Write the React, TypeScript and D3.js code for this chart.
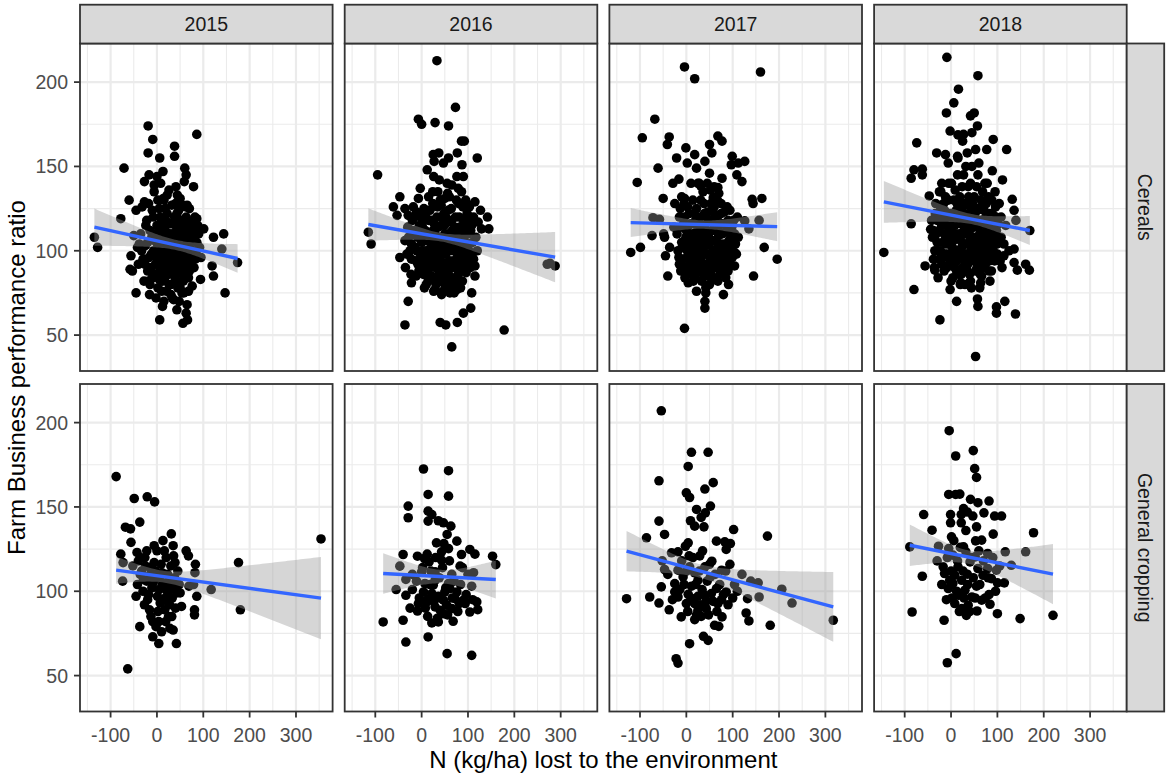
import { useEffect, useRef } from 'react';
import * as d3 from 'd3';

// Facets
const YEARS = ['2015', '2016', '2017', '2018'];
const FARM_TYPES = ['Cereals', 'General cropping'];
const X_TICKS = [-100, 0, 100, 200, 300];
const Y_TICKS = [50, 100, 150, 200];
const X_MINOR = [-150, -50, 50, 150, 250, 350];
const Y_MINOR = [75, 125, 175];

type Pt = [number, number];

// N lost (kg/ha), performance ratio
const CEREALS_2015: Pt[] = [
  [-135, 108], [-128, 102], [-19, 174], [-9, 166], [-19, 158], [6, 155], [38, 162], [38, 156], [86, 169],
  [-71, 149], [60, 149], [63, 145], [-27, 141], [-17, 145], [13, 147], [0, 144], [79, 138], [59, 141],
  [41, 138], [-6, 139], [-60, 130], [-45, 124], [-78, 119], [-27, 129], [-32, 126], [22, 133], [14, 131],
  [50, 131], [65, 127], [86, 119], [101, 113], [122, 108], [144, 110], [140, 101], [174, 93], [122, 85],
  [119, 91], [147, 75], [-56, 97], [-42, 102], [-50, 109], [-58, 89], [-53, 88], [-45, 75], [-16, 74],
  [-18, 82], [12, 67], [6, 59], [36, 71], [56, 57], [66, 59], [63, 63], [43, 65], [54, 75], [76, 79],
  [94, 83], [65, 68],
  [-30, 95], [-25, 103], [-20, 88], [-15, 112], [-12, 98], [-10, 84], [-8, 120], [-5, 106], [-3, 92],
  [0, 115], [2, 78], [3, 100], [5, 125], [6, 88], [8, 108], [10, 95], [11, 118], [12, 82], [14, 103],
  [15, 130], [16, 90], [18, 112], [20, 98], [21, 76], [22, 122], [24, 86], [25, 106], [27, 94], [28, 116],
  [30, 80], [31, 101], [32, 127], [34, 89], [35, 110], [36, 97], [38, 120], [39, 84], [40, 104], [42, 92],
  [43, 113], [45, 78], [46, 99], [47, 124], [49, 87], [50, 107], [51, 95], [53, 118], [54, 82], [55, 102],
  [57, 90], [58, 111], [60, 98], [62, 85], [63, 120], [65, 105], [66, 93], [68, 113], [70, 88], [72, 101],
  [74, 117], [76, 95], [78, 108], [80, 90], [-22, 118], [-18, 128], [-6, 135], [8, 140], [26, 136],
  [44, 133], [-28, 82], [-35, 110], [-40, 92], [15, 70], [33, 72], [-2, 72], [48, 70], [58, 75], [85, 100],
  [90, 110], [95, 96], [-15, 80], [5, 96], [19, 104], [37, 106], [52, 92], [67, 98], [-1, 110], [29, 88],
  [41, 82], [61, 115], [12, 114], [23, 110], [56, 127], [70, 125], [82, 120],
  [-33, 100], [-26, 92], [-24, 115], [-20, 105], [-17, 96], [-13, 90], [-11, 108], [-7, 100], [-4, 86],
  [-1, 96], [1, 104], [4, 112], [7, 120], [9, 101], [11, 90], [13, 110], [15, 96], [17, 84], [19, 118],
  [21, 108], [23, 93], [25, 100], [26, 80], [28, 110], [30, 95], [32, 104], [33, 116], [35, 86], [37, 100],
  [39, 110], [41, 96], [43, 122], [44, 88], [46, 106], [48, 114], [50, 93], [52, 100], [54, 110], [56, 88],
  [58, 104], [59, 96], [61, 108], [63, 92], [64, 100], [66, 114], [68, 84], [70, 104], [72, 94], [74, 110],
  [77, 100], [80, 112], [83, 95], [86, 105], [88, 115], [92, 102], [-38, 104], [10, 76], [30, 74], [50, 78],
  [68, 76], [5, 83], [45, 118], [22, 86], [36, 92], [57, 82], [62, 126], [18, 125], [-10, 124], [2, 130],
  [40, 128],
];

const CEREALS_2016: Pt[] = [
  [33, 212.7], [73, 185], [-7, 178], [0, 175], [29, 176], [58, 174], [86, 165], [92, 165], [25, 157],
  [37, 158], [58, 155], [77, 158], [120, 155], [27, 153], [47, 152], [87, 151], [-95, 145], [12, 148],
  [26, 144], [38, 142], [55, 140], [65, 139], [76, 144], [90, 144], [-3, 137], [24, 135], [79, 137],
  [86, 135], [56, 134], [-47, 132], [-7, 131], [50, 131], [115, 129], [-61, 126], [-36, 125], [-11, 123],
  [18, 124], [42, 127], [101, 127], [127, 124], [142, 120], [145, 113], [-53, 121], [-29, 121], [-115, 111],
  [-109, 104], [-36, 106], [-22, 104], [-47, 96], [-32, 98], [-35, 90], [-23, 86], [-22, 81], [-29, 70],
  [-36, 56], [40, 57.5], [52, 56], [77, 57.5], [90, 63], [106, 66], [108, 75], [65, 43], [178, 53],
  [271, 92], [288, 91], [277, 92.5], [115, 91], [115, 85], [104, 97], [129, 113], [122, 117], [29, 77],
  [43, 74], [61, 75], [76, 77],
  [-20, 118], [-15, 110], [-10, 100], [-8, 92], [-5, 115], [0, 105], [2, 96], [4, 86], [5, 125], [8, 112],
  [10, 100], [12, 90], [14, 82], [15, 118], [18, 106], [20, 95], [22, 85], [24, 128], [25, 112], [28, 100],
  [30, 90], [31, 80], [33, 120], [35, 108], [37, 96], [38, 86], [40, 130], [42, 115], [44, 103], [45, 93],
  [47, 82], [48, 122], [50, 110], [52, 98], [54, 88], [56, 78], [57, 117], [59, 105], [60, 94], [62, 84],
  [64, 125], [66, 112], [68, 100], [70, 90], [72, 80], [73, 120], [75, 108], [77, 96], [79, 86], [80, 128],
  [82, 114], [84, 102], [86, 92], [88, 82], [90, 118], [92, 106], [94, 96], [96, 87], [98, 122], [100, 110],
  [102, 100], [105, 90], [108, 115], [110, 105], [-25, 100], [-12, 85], [6, 78], [26, 76], [46, 76],
  [66, 78], [84, 78], [35, 135], [60, 132], [15, 132], [-2, 120], [-18, 126], [75, 130], [95, 130],
  [104, 120], [3, 108], [16, 98], [27, 116], [39, 104], [52, 120], [63, 92], [71, 114], [81, 104],
  [93, 112], [112, 95], [55, 102], [43, 88], [20, 102], [33, 96], [67, 106], [87, 98], [-3, 98], [9, 120],
  [58, 86], [76, 90],
  [-28, 108], [-22, 95], [-18, 112], [-14, 102], [-12, 94], [-9, 108], [-6, 88], [-4, 110], [-1, 93],
  [1, 115], [3, 100], [6, 90], [7, 122], [9, 106], [11, 95], [13, 85], [16, 110], [17, 100], [19, 90],
  [21, 118], [23, 104], [25, 94], [27, 84], [29, 110], [31, 100], [33, 90], [34, 126], [36, 114], [38, 102],
  [39, 92], [41, 82], [43, 120], [45, 108], [46, 98], [48, 88], [49, 115], [51, 104], [53, 92], [55, 84],
  [57, 124], [58, 110], [60, 100], [62, 90], [63, 80], [65, 118], [67, 104], [69, 94], [71, 84], [74, 112],
  [76, 100], [78, 92], [81, 120], [83, 108], [85, 96], [87, 88], [89, 126], [91, 112], [93, 100], [95, 92],
  [97, 116], [99, 104], [101, 94], [103, 126], [106, 112], [109, 98], [112, 120], [-30, 114], [-16, 120],
  [117, 108], [120, 100], [30, 82], [50, 80], [70, 75], [10, 80],
];

const CEREALS_2017: Pt[] = [
  [-4, 209], [18, 202], [160, 206], [-68, 178], [-95, 167], [-37, 167.5], [-41, 163], [68, 168], [77, 165],
  [50, 163], [55, 158], [-1, 161], [18, 157], [-21, 155], [2, 152], [22, 149], [40, 153], [99, 156],
  [126, 153], [112, 152], [97, 151], [-61, 149], [50, 146], [109, 145], [120, 141], [-106, 140.5], [-29, 140],
  [-16, 142.5], [77, 143], [68, 137.5], [31, 138.5], [-50, 131], [-25, 128], [142, 130.5], [163, 131],
  [144, 128], [-4, 131], [58, 131.5], [-72, 119.6], [-58, 118.6], [-27, 114], [-74, 109], [-49, 110],
  [-47, 108], [-120, 99], [-99, 102], [-36, 102], [-45, 97], [-40, 85], [126, 117.7], [157, 118], [135, 113],
  [168, 102], [196, 95], [145, 85], [4, 81], [22, 76], [42, 78], [42, 75], [40, 70], [40, 66], [80, 74],
  [91, 80], [65, 83], [-4, 54], [104, 99], [104, 91],
  [-15, 120], [-10, 105], [-8, 95], [-5, 128], [0, 112], [2, 100], [4, 90], [6, 122], [8, 108], [10, 96],
  [12, 86], [14, 130], [16, 116], [18, 104], [20, 93], [22, 125], [24, 112], [26, 100], [28, 89], [30, 120],
  [32, 108], [34, 97], [36, 135], [38, 128], [40, 115], [42, 103], [44, 92], [46, 123], [48, 110], [50, 98],
  [52, 87], [54, 118], [56, 106], [58, 95], [60, 126], [62, 113], [64, 101], [66, 90], [68, 121], [70, 109],
  [72, 98], [74, 88], [76, 116], [78, 104], [80, 94], [82, 123], [84, 111], [86, 100], [88, 90], [90, 118],
  [92, 106], [95, 96], [98, 114], [100, 103], [104, 110], [-18, 100], [-12, 88], [-3, 84], [15, 82],
  [33, 82], [50, 80], [68, 82], [85, 84], [25, 140], [45, 140], [60, 138], [10, 140], [-2, 104], [35, 112],
  [55, 124], [75, 128], [88, 126], [15, 98], [30, 106], [65, 96], [80, 100], [-6, 116], [20, 118], [45, 85],
  [58, 112], [5, 115], [70, 117], [93, 92], [108, 98], [110, 120],
  [-20, 110], [-16, 96], [-13, 125], [-11, 114], [-9, 102], [-7, 90], [-4, 120], [-1, 108], [1, 96],
  [3, 126], [5, 104], [7, 92], [9, 116], [11, 100], [13, 110], [15, 90], [17, 122], [19, 108], [21, 98],
  [23, 88], [25, 118], [27, 104], [29, 94], [31, 130], [33, 115], [35, 102], [37, 92], [39, 122], [41, 108],
  [43, 98], [45, 88], [47, 118], [49, 104], [51, 94], [53, 128], [55, 112], [57, 100], [59, 90], [61, 120],
  [63, 106], [65, 95], [67, 130], [69, 114], [71, 102], [73, 92], [75, 122], [77, 110], [79, 98], [81, 88],
  [83, 116], [85, 104], [87, 94], [89, 112], [91, 100], [94, 124], [96, 108], [99, 96], [102, 118],
  [106, 104], [-15, 92], [0, 88], [18, 85], [36, 86], [55, 84], [72, 86], [90, 88], [28, 140], [52, 136],
  [70, 134], [-10, 132], [112, 108],
];

const CEREALS_2018: Pt[] = [
  [-9, 214.7], [58, 203.8], [16, 195.8], [6, 187.7], [-10, 181.7], [42, 180], [50, 181.7], [57, 174],
  [-2, 171], [15, 168.7], [27, 169], [-74, 164], [91, 166], [120, 160], [-31, 158], [-12, 157], [14, 156],
  [53, 160], [77, 160], [-80, 148], [-62, 148.4], [-86, 143], [-62, 145], [111, 142], [89, 147.4],
  [-47, 132.5], [-22, 135], [132, 130.5], [136, 124], [140, 118], [170, 112], [-86, 116], [-145, 99],
  [-44, 112.7], [-56, 91], [-35, 88.5], [-80, 77], [-2, 77], [12, 70], [57, 71.4], [58, 67], [98, 66.7],
  [98, 63], [116, 70], [139, 62.5], [-24, 59], [53, 37.3], [136, 101], [136, 93], [161, 92], [169, 88.5],
  [143, 88.5], [21, 81], [44, 78], [64, 81], [114, 97],
  [-40, 108], [-35, 100], [-30, 118], [-25, 95], [-22, 125], [-18, 105], [-15, 88], [-12, 132], [-10, 115],
  [-8, 98], [-5, 140], [-2, 122], [0, 108], [2, 92], [4, 84], [6, 130], [8, 115], [10, 100], [12, 88],
  [14, 145], [16, 124], [18, 110], [20, 96], [22, 86], [24, 138], [26, 118], [28, 104], [30, 92], [32, 150],
  [34, 128], [36, 112], [38, 98], [40, 86], [42, 140], [44, 122], [46, 108], [48, 95], [50, 132], [52, 116],
  [54, 102], [56, 90], [58, 145], [60, 125], [62, 110], [64, 97], [66, 85], [68, 135], [70, 118], [72, 104],
  [74, 92], [76, 128], [78, 112], [80, 100], [82, 88], [84, 122], [86, 108], [88, 96], [90, 118], [92, 104],
  [95, 135], [98, 112], [100, 98], [104, 128], [108, 108], [110, 90], [-28, 84], [-20, 140], [15, 155],
  [35, 158], [60, 152], [78, 140], [-6, 152], [25, 165], [45, 170], [12, 120], [38, 132], [58, 118],
  [88, 130], [-15, 110], [5, 100], [28, 122], [52, 94], [72, 128], [20, 80], [42, 82], [65, 106], [94, 94],
  [-33, 128], [118, 115], [125, 100],
  [-42, 118], [-38, 95], [-32, 110], [-28, 100], [-25, 135], [-20, 115], [-17, 96], [-14, 124], [-11, 104],
  [-9, 90], [-6, 130], [-3, 112], [-1, 98], [1, 140], [3, 120], [5, 106], [7, 94], [9, 136], [11, 124],
  [13, 108], [15, 96], [17, 86], [19, 132], [21, 116], [23, 102], [25, 90], [27, 145], [29, 128], [31, 110],
  [33, 98], [35, 88], [37, 138], [39, 120], [41, 106], [43, 94], [45, 150], [47, 128], [49, 114], [51, 100],
  [53, 88], [55, 138], [57, 124], [59, 108], [61, 96], [63, 86], [65, 130], [67, 116], [69, 100], [71, 90],
  [73, 140], [75, 120], [77, 106], [79, 94], [81, 132], [83, 114], [85, 100], [87, 88], [89, 122], [91, 110],
  [93, 98], [96, 126], [99, 104], [102, 116], [106, 94], [-36, 90], [0, 82], [30, 80], [62, 78], [84, 82],
  [108, 120], [114, 104],
  [-38, 112], [-34, 122], [-30, 105], [-26, 112], [-23, 100], [-19, 120], [-16, 128], [-13, 98], [-10, 108],
  [-7, 118], [-4, 104], [-2, 94], [1, 116], [3, 102], [6, 122], [8, 90], [10, 110], [13, 128], [16, 100],
  [18, 118], [21, 106], [23, 126], [26, 96], [28, 112], [31, 120], [33, 104], [36, 92], [38, 116], [41, 126],
  [43, 100], [46, 114], [48, 104], [51, 122], [53, 108], [56, 96], [58, 114], [61, 102], [63, 118], [66, 92],
  [68, 110], [71, 124], [73, 98], [76, 112], [78, 122], [81, 104], [83, 94], [86, 118], [88, 110], [91, 100],
  [94, 112], [97, 120], [100, 106], [-20, 92], [12, 94], [40, 112], [70, 108],
];

const GENERAL_2015: Pt[] = [
  [-88, 168], [-49, 155], [-21, 156], [-5, 153], [-37, 141], [-68, 138], [-57, 137], [-56, 129], [-43, 123],
  [-36, 120], [-78, 122], [-73, 117], [-52, 115], [-74, 106], [-22, 124], [-6, 127], [0, 124], [-6, 117],
  [13, 130], [16, 124], [31, 134], [35, 127], [36, 121], [39, 117], [63, 124], [68, 121], [83, 116],
  [82, 111], [69, 103], [86, 97], [117, 101], [81, 89], [81, 86], [53, 91], [43, 99], [176, 117], [180, 89],
  [354, 131], [-63, 54], [-37, 79], [-45, 97], [-27, 92], [-20, 95], [-16, 89], [-13, 85], [-9, 82],
  [-9, 73], [4, 69], [4, 82], [19, 82], [25, 85], [32, 85], [35, 77], [42, 69], [17, 89], [14, 95], [1, 97],
  [7, 93], [20, 105], [29, 101], [36, 103], [43, 105], [23, 110], [11, 111], [-14, 110], [-29, 107],
  [-42, 104], [-36, 110], [-22, 106], [-11, 102], [22, 100], [50, 99], [29, 107], [-11, 108], [6, 108],
  [25, 93], [-25, 115], [79, 104],
  [-40, 118], [-33, 112], [-30, 100], [-26, 120], [-18, 98], [-15, 114], [-8, 105], [-3, 112], [2, 88],
  [5, 101], [9, 116], [12, 104], [18, 96], [20, 120], [24, 102], [27, 92], [30, 115], [33, 96], [38, 108],
  [40, 90], [45, 112], [48, 104], [-2, 79], [10, 76], [28, 78],
];

const GENERAL_2016: Pt[] = [
  [4, 172.5], [58, 171.5], [14, 157.4], [58, 156.4], [-29, 150.5], [-29, 143.6], [14, 147.5], [22, 145.5],
  [14, 141.6], [36, 141.8], [47, 140.6], [63, 138.6], [55, 133.7], [32, 128.7], [48, 128.3], [76, 129.7],
  [58, 125.3], [43, 123.4], [104, 124.8], [115, 122], [86, 121.8], [-40, 121.8], [-9, 120.8], [6, 119.4],
  [16, 117.4], [43, 118.4], [153, 120.8], [160, 115.8], [83, 114.9], [-47, 114.9], [0, 111.5], [29, 111.5],
  [65, 110], [112, 111], [-34, 107], [-11, 106], [29, 106.5], [58, 104.6], [108, 103], [-55, 101],
  [-20, 101], [-34, 97.6], [4, 99.6], [22, 98.6], [36, 97], [47, 94.7], [72, 95.6], [90, 94.7], [119, 93.7],
  [-7, 92.7], [11, 93.7], [29, 90.7], [40, 88.7], [54, 91.7], [65, 89.7], [81, 92.7], [104, 87.7],
  [121, 89.1], [-9, 88.3], [13, 85.1], [22, 81.2], [36, 81.8], [47, 86.7], [68, 82.2], [-83, 81.8],
  [-40, 82.8], [14, 72.9], [-34, 69.9], [55, 63], [108, 62], [25, 103.6], [50, 99.6], [14, 95.6],
  [61, 101.6], [76, 99.6], [94, 92.7], [7, 104.6],
  [-20, 110], [-5, 96], [2, 114], [8, 90], [12, 122], [18, 104], [20, 112], [26, 94], [30, 120], [34, 84],
  [38, 108], [40, 96], [45, 114], [52, 102], [56, 86], [60, 118], [66, 96], [70, 106], [78, 88], [84, 104],
  [88, 114], [96, 98], [100, 110], [110, 95], [-25, 90],
];

const GENERAL_2017: Pt[] = [
  [-54, 207], [11, 182.4], [47, 182.4], [4, 174], [-59, 165.5], [58, 164.4], [40, 160.6], [0, 158.4],
  [7, 155.6], [52, 150.5], [22, 148.5], [41, 146.5], [32, 143.8], [9, 141.8], [18, 138.6], [38, 138.2],
  [-59, 141.6], [-47, 133.7], [102, 136.6], [175, 132.7], [-86, 131.7], [65, 129.7], [83, 129.3],
  [95, 128.3], [4, 128.7], [86, 124.8], [-2, 126.7], [-18, 123.4], [-32, 122.8], [6, 121], [29, 121],
  [94, 116], [55, 117.8], [-52, 118], [-47, 112.9], [-18, 112.5], [7, 114.5], [40, 114.5], [76, 112.5],
  [18, 110.9], [52, 108.5], [139, 106], [155, 105], [104, 104], [-25, 104.5], [-54, 102.6], [-14, 101],
  [11, 103], [34, 101], [65, 101.6], [86, 99.6], [206, 101.2], [-129, 95.6], [-79, 96.6], [-18, 96.6],
  [4, 98.2], [25, 97], [54, 98.6], [76, 95], [132, 95.6], [157, 96.6], [-59, 93], [-37, 89], [18, 92.7],
  [43, 94.3], [68, 92.7], [228, 93], [-11, 84.8], [18, 83.2], [32, 85.1], [43, 89.7], [77, 84.8],
  [129, 87.1], [135, 82.4], [61, 79.8], [70, 79.2], [181, 79.8], [317, 82.8], [37, 73.3], [47, 70.9],
  [7, 68.9], [-22, 60], [-18, 57.4], [25, 88.7], [0, 92.7], [-25, 99.6], [-7, 108.5], [25, 106.5],
  [-40, 110], [-30, 95], [-10, 118], [-5, 104], [0, 112], [3, 88], [10, 96], [14, 120], [20, 104], [22, 86],
  [28, 112], [30, 92], [35, 124], [38, 98], [45, 106], [48, 86], [50, 116], [58, 94], [62, 110], [66, 88],
  [72, 104], [80, 98], [85, 112], [90, 92], [100, 96], [110, 100], [120, 110],
];

const GENERAL_2018: Pt[] = [
  [-4, 195.2], [48, 183.4], [10, 180.2], [51, 172.7], [55, 167.5], [-5, 157.4], [10, 157.4], [19, 157.6],
  [42, 154.5], [58, 152.5], [82, 153.5], [-59, 145.5], [-1, 145.5], [22, 145.5], [47, 144.6], [71, 146.5],
  [94, 144.6], [109, 144.6], [27, 149], [35, 147], [-1, 140.6], [22, 140.6], [55, 138.2], [-41, 136.2],
  [91, 133.9], [178, 134.7], [1, 132.3], [53, 129.9], [66, 130.3], [27, 126.3], [-27, 126.7], [-5, 125.3],
  [-89, 126.3], [79, 122.4], [117, 123.4], [161, 123.4], [4, 121.4], [32, 123.4], [52, 120.4], [130, 115.4],
  [-17, 114.5], [15, 114.5], [58, 113.5], [79, 113.5], [98, 112.5], [-62, 108.9], [-14, 110.5], [8, 109.5],
  [35, 110.1], [69, 109.5], [87, 107.5], [-3, 106.5], [23, 106.5], [55, 103], [100, 105], [-6, 101.6],
  [30, 100.6], [82, 98], [16, 97.6], [66, 94.7], [84, 92.3], [23, 89.7], [37, 91.7], [56, 88.3], [33, 85.7],
  [100, 86.7], [-84, 87.7], [-15, 82.8], [149, 83.8], [220, 85.7], [11, 63], [-8, 57.6], [8, 92.7],
  [45, 96.6], [4, 104.6], [41, 117.4],
  [-30, 118], [-20, 104], [-10, 95], [-8, 120], [0, 112], [2, 96], [6, 130], [12, 100], [14, 118], [18, 88],
  [20, 126], [26, 112], [28, 96], [32, 136], [36, 104], [40, 88], [44, 120], [48, 108], [52, 96], [60, 124],
  [62, 104], [70, 118], [74, 96], [80, 108], [90, 120], [96, 100], [105, 115], [115, 105],
];

const CEREALS_POINTS = [CEREALS_2015, CEREALS_2016, CEREALS_2017, CEREALS_2018];
const GENERAL_POINTS = [GENERAL_2015, GENERAL_2016, GENERAL_2017, GENERAL_2018];

// Linear fit: [xA, yA, xB, yB], and CI half-width at left end, narrowest, right end
const CEREALS_FIT = [
  [-135, 114, 171, 95.6], [-114, 115.5, 284, 96.4], [-120, 116.7, 194, 114.3], [-145, 129, 170, 112],
];
const CEREALS_CI = [[11, 3, 8.5], [9.6, 2.5, 14.9], [8.6, 2.5, 8.6], [12.4, 3, 8.6]];
const GENERAL_FIT = [
  [-88, 112.5, 353, 96], [-83, 110.5, 157, 107], [-129, 123.8, 313, 91], [-89, 127.3, 221, 110.1],
];
const GENERAL_CI = [[8, 3.5, 24.4], [12, 4, 11.2], [12, 4, 20.7], [12.3, 4, 17.8]];

const FONT = '"Liberation Sans", Arial, sans-serif';

export default function App() {
  const svgRef = useRef<SVGSVGElement>(null);

  useEffect(() => {
    document.body.style.margin = '0';
    if (!svgRef.current) return;
    const svg = d3.select(svgRef.current);
    svg.selectAll('*').remove();

    const panelW = 252.6;
    const panelH = 327.5;
    const colStep = 264.7;
    const left = 80;
    const rowTops = [43.5, 384];
    const stripTop = 4.7;

    const x = d3.scaleLinear().domain([-166, 379]).range([0, panelW]);
    const y = d3.scaleLinear().domain([28.7, 222.9]).range([panelH, 0]);

    svg.append('rect').attr('width', 1170).attr('height', 780).attr('fill', '#ffffff');

    FARM_TYPES.forEach((type, r) => {
      const pts = r === 0 ? CEREALS_POINTS : GENERAL_POINTS;
      const fits = r === 0 ? CEREALS_FIT : GENERAL_FIT;
      const cis = r === 0 ? CEREALS_CI : GENERAL_CI;

      YEARS.forEach((year, c) => {
        const g = svg.append('g')
          .attr('transform', `translate(${left + c * colStep},${rowTops[r]})`);

        // grid
        g.selectAll('.xminor').data(X_MINOR).join('line')
          .attr('x1', d => x(d)).attr('x2', d => x(d)).attr('y1', 0).attr('y2', panelH)
          .attr('stroke', '#ebebeb').attr('stroke-width', 1.1);
        g.selectAll('.yminor').data(Y_MINOR).join('line')
          .attr('x1', 0).attr('x2', panelW).attr('y1', d => y(d)).attr('y2', d => y(d))
          .attr('stroke', '#ebebeb').attr('stroke-width', 1.1);
        g.selectAll('.xmajor').data(X_TICKS).join('line')
          .attr('x1', d => x(d)).attr('x2', d => x(d)).attr('y1', 0).attr('y2', panelH)
          .attr('stroke', '#ebebeb').attr('stroke-width', 2.2);
        g.selectAll('.ymajor').data(Y_TICKS).join('line')
          .attr('x1', 0).attr('x2', panelW).attr('y1', d => y(d)).attr('y2', d => y(d))
          .attr('stroke', '#ebebeb').attr('stroke-width', 2.2);

        // points
        const data = pts[c];
        g.append('g').selectAll('circle').data(data).join('circle')
          .attr('cx', d => x(d[0])).attr('cy', d => y(d[1])).attr('r', 4.8)
          .attr('fill', '#000000');

        // smoother: lm line + confidence band
        const [xa, ya, xb, yb] = fits[c];
        const [h0, hm, h1] = cis[c];
        const [xMin, xMax] = d3.extent(data, d => d[0]) as [number, number];
        const slope = (yb - ya) / (xb - xa);
        const fy = (v: number) => ya + (v - xa) * slope;
        const d0 = Math.sqrt(Math.max(h0 * h0 - hm * hm, 0));
        const d1 = Math.sqrt(Math.max(h1 * h1 - hm * hm, 0));
        const xc = xMin + (xMax - xMin) * d0 / (d0 + d1);
        const k = d0 / Math.max(xc - xMin, 1);
        const hw = (v: number) => Math.sqrt(hm * hm + k * k * (v - xc) * (v - xc));
        const xs = d3.range(0, 81).map(i => xMin + (xMax - xMin) * i / 80);

        g.append('path')
          .datum(xs)
          .attr('d', d3.area<number>()
            .x(v => x(v))
            .y0(v => y(fy(v) - hw(v)))
            .y1(v => y(fy(v) + hw(v))))
          .attr('fill', '#999999')
          .attr('fill-opacity', 0.4);

        g.append('line')
          .attr('x1', x(xMin)).attr('x2', x(xMax))
          .attr('y1', y(fy(xMin))).attr('y2', y(fy(xMax)))
          .attr('stroke', '#3366ff').attr('stroke-width', 3.4);

        // border
        g.append('rect').attr('width', panelW).attr('height', panelH)
          .attr('fill', 'none').attr('stroke', '#333333').attr('stroke-width', 1.8);

        // left axis
        if (c === 0) {
          Y_TICKS.forEach(t => {
            g.append('line').attr('x1', -6).attr('x2', 0).attr('y1', y(t)).attr('y2', y(t))
              .attr('stroke', '#333333').attr('stroke-width', 1.8);
            g.append('text').attr('x', -12).attr('y', y(t) + 7)
              .attr('text-anchor', 'end').attr('font-size', '19.5px').attr('font-family', FONT)
              .attr('fill', '#4d4d4d').text(t);
          });
        }
        // bottom axis
        if (r === 1) {
          X_TICKS.forEach(t => {
            g.append('line').attr('x1', x(t)).attr('x2', x(t)).attr('y1', panelH).attr('y2', panelH + 6)
              .attr('stroke', '#333333').attr('stroke-width', 1.8);
            g.append('text').attr('x', x(t)).attr('y', panelH + 30.5)
              .attr('text-anchor', 'middle').attr('font-size', '19.5px').attr('font-family', FONT)
              .attr('fill', '#4d4d4d').text(t);
          });
        }
        // top strip
        if (r === 0) {
          const s = svg.append('g').attr('transform', `translate(${left + c * colStep},${stripTop})`);
          s.append('rect').attr('width', panelW).attr('height', rowTops[0] - stripTop)
            .attr('fill', '#d9d9d9').attr('stroke', '#333333').attr('stroke-width', 1.8);
          s.append('text').attr('x', panelW / 2).attr('y', (rowTops[0] - stripTop) / 2 + 7)
            .attr('text-anchor', 'middle').attr('font-size', '19.5px').attr('font-family', FONT)
            .attr('fill', '#1a1a1a').text(year);
        }
        // right strip
        if (c === YEARS.length - 1) {
          const sx = left + c * colStep + panelW;
          const s = svg.append('g').attr('transform', `translate(${sx},${rowTops[r]})`);
          s.append('rect').attr('width', 37.5).attr('height', panelH)
            .attr('fill', '#d9d9d9').attr('stroke', '#333333').attr('stroke-width', 1.8);
          s.append('text')
            .attr('transform', `translate(${37.5 / 2 - 7},${panelH / 2}) rotate(90)`)
            .attr('text-anchor', 'middle').attr('font-size', '19.5px').attr('font-family', FONT)
            .attr('fill', '#1a1a1a').text(type);
        }
      });
    });

    // axis titles
    const plotMidX = left + (3 * colStep + panelW) / 2;
    svg.append('text')
      .attr('x', plotMidX).attr('y', 768)
      .attr('text-anchor', 'middle').attr('font-size', '24px').attr('font-family', FONT)
      .attr('fill', '#000000').text('N (kg/ha) lost to the environment');

    svg.append('text')
      .attr('transform', `translate(25,${(rowTops[0] + rowTops[1] + panelH) / 2}) rotate(-90)`)
      .attr('text-anchor', 'middle').attr('font-size', '24px').attr('font-family', FONT)
      .attr('fill', '#000000').text('Farm Business performance ratio');
  }, []);

  return <svg ref={svgRef} width={1170} height={780} style={{ display: 'block' }} />;
}
